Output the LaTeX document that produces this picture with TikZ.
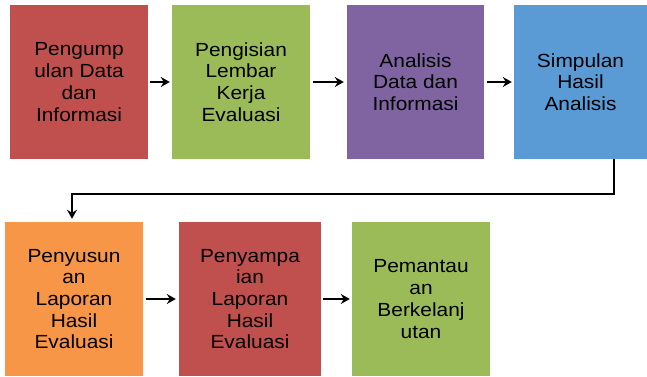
\documentclass[tikz,border=0pt]{standalone}
\usepackage{fontspec}
\setmainfont[FakeStretch=1.1]{Liberation Sans}
\usetikzlibrary{arrows.meta,calc}
\definecolor{cred}{HTML}{C0504D}
\definecolor{cgreen}{HTML}{9BBB59}
\definecolor{cpurple}{HTML}{8064A2}
\definecolor{cblue}{HTML}{5B9BD5}
\definecolor{corange}{HTML}{F79646}
\tikzset{
  box/.style={rectangle, minimum height=154pt, inner sep=0pt, align=center,
    font=\fontsize{19}{21.7}\selectfont, text=black},
  arr/.style={-{Stealth[length=9pt,width=10pt,inset=3pt]}, line width=1.8pt, black}
}
\begin{document}
\begin{tikzpicture}[x=1pt,y=-1pt]
\useasboundingbox (0,0) rectangle (647,376);
\node[box, fill=cred, minimum width=138pt] (b1) at (79,82) {Pengump\\ulan Data\\dan\\Informasi};
\node[box, fill=cgreen, minimum width=138pt] (b2) at (241,82) {Pengisian\\Lembar\\Kerja\\Evaluasi};
\node[box, fill=cpurple, minimum width=137pt] (b3) at (415.5,82) {Analisis\\Data dan\\Informasi};
\node[box, fill=cblue, minimum width=133pt] (b4) at (580.5,82) {Simpulan\\Hasil\\Analisis};
\node[box, fill=corange, minimum width=138pt] (b5) at (74,299) {Penyusun\\an\\Laporan\\Hasil\\Evaluasi};
\node[box, fill=cred, minimum width=142pt] (b6) at (250,299) {Penyampa\\ian\\Laporan\\Hasil\\Evaluasi};
\node[box, fill=cgreen, minimum width=138pt] (b7) at (421,299) {Pemantau\\an\\Berkelanj\\utan};
\draw[arr, shorten <=2pt, shorten >=2pt] (b1) -- (b2);
\draw[arr, shorten <=3pt, shorten >=3pt] (b2) -- (b3);
\draw[arr, shorten <=3pt, shorten >=2pt] (b3) -- (b4);
\draw[arr, shorten <=3pt, shorten >=3pt] (b5) -- (b6);
\draw[arr, shorten <=2pt, shorten >=2pt] (b6) -- (b7);
\coordinate (c1) at ($(b4.south)+(33.5,35)$);
\draw[arr, shorten >=3pt] ([xshift=33.5pt]b4.south) -- (c1) -| ([xshift=-2pt]b5.north);
\end{tikzpicture}
\end{document}
